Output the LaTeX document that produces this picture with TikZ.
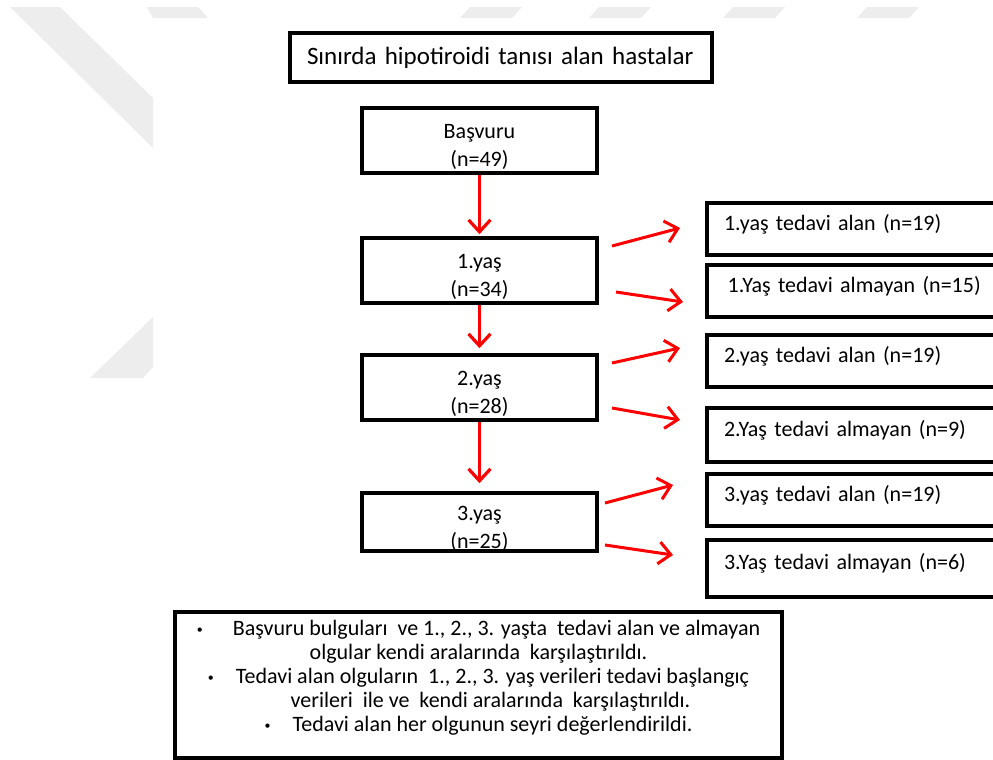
\documentclass[tikz,border=0pt]{standalone}
\usepackage{fontspec}
\setmainfont{Carlito}
\usetikzlibrary{arrows.meta}
\definecolor{wmgray}{HTML}{EDEDED}
\newcommand\notebullet{\raisebox{1.2pt}{\fontsize{6}{6}\selectfont•}}
\begin{document}
\begin{tikzpicture}[x=0.5pt,y=-0.5pt,
  titlebox/.style={draw,line width=1.8pt,minimum height=24.5pt,text width=194pt,
    inner xsep=8.5pt,inner ysep=0pt,align=left,font=\fontsize{12.5}{15}\selectfont},
  yearbox/.style={draw,line width=1.8pt,minimum width=117.5pt,minimum height=32.5pt,
    text width=117.5pt,inner sep=0pt,align=center,text height=4pt,text depth=6pt,
    font=\fontsize{11}{14}\selectfont},
  sidebox/.style={draw,line width=1.8pt,minimum width=149pt,minimum height=26pt,
    text width=132pt,inner xsep=8.5pt,inner ysep=0pt,align=left,
    text height=7pt,text depth=6pt,font=\fontsize{11}{13}\selectfont},
  notebox/.style={draw,line width=1.8pt,minimum width=303.5pt,minimum height=73pt,inner sep=0pt},
  notetext/.style={align=center,inner sep=0pt,font=\fontsize{11}{12}\selectfont},
  downarrow/.style={draw=red,line width=1.6pt,-{Straight Barb[length=6pt,width=11pt]}},
  sidearrow/.style={draw=red,line width=1.5pt,-{Straight Barb[length=6pt,width=11pt]}}]
\clip (0,0) rectangle (993,760);
% watermark
\fill[wmgray] (10,7) -- (60,7) -- (153,98) -- (153,148) -- cycle;
\fill[wmgray] (147,7) -- (198,7) -- (208,18) -- (153,18) -- cycle;
\fill[wmgray] (90,378) -- (153,317) -- (153,367) -- (143,378) -- cycle;
\fill[wmgray] (470,7) -- (522,7) -- (512,18) -- (460,18) -- cycle;
\fill[wmgray] (599,7) -- (651,7) -- (641,18) -- (589,18) -- cycle;
\fill[wmgray] (733,7) -- (785,7) -- (775,18) -- (723,18) -- cycle;
\fill[wmgray] (867,7) -- (919,7) -- (909,18) -- (857,18) -- cycle;
% title
\node[titlebox] (title) at (501,57.5) {Sınırda hipotiroidi tanısı alan hastalar};
% left column
\node[yearbox] (bas) at (479.5,140.5) {Başvuru\\(n=49)};
\node[yearbox] (y1) at (479.5,270.5) {1.yaş\\(n=34)};
\node[yearbox] (y2) at (479.5,387.5) {2.yaş\\(n=28)};
\node[yearbox,minimum height=29pt] (y3) at (479.5,522) {3.yaş\\(n=25)};
\draw[downarrow,shorten >=1pt] (bas.south) -- (y1.north);
\draw[downarrow,shorten >=2.5pt] (y1.south) -- (y2.north);
\draw[downarrow,shorten >=4pt] (y2.south) -- (y3.north);
% right column
\node[sidebox] (t1) at (856,229) {1.yaş tedavi alan (n=19)};
\node[sidebox] (t2) at (856,291) {\,1.Yaş tedavi almayan (n=15)};
\node[sidebox] (t3) at (856,361) {2.yaş tedavi alan (n=19)};
\node[sidebox,minimum height=27pt] (t4) at (856,435) {2.Yaş tedavi almayan (n=9)};
\node[sidebox] (t5) at (856,500) {3.yaş tedavi alan (n=19)};
\node[sidebox,minimum height=28.5pt] (t6) at (856,568.5) {3.Yaş tedavi almayan (n=6)};
\coordinate (s1) at (612,246); \coordinate (e1) at (680,228);
\coordinate (s2) at (616,292); \coordinate (e2) at (683,302);
\coordinate (s3) at (612,363); \coordinate (e3) at (680,348);
\coordinate (s4) at (612,408); \coordinate (e4) at (680,420);
\coordinate (s5) at (605,503); \coordinate (e5) at (673,485);
\coordinate (s6) at (605,545); \coordinate (e6) at (673,555);
\draw[sidearrow] (s1) -- (e1);
\draw[sidearrow] (s2) -- (e2);
\draw[sidearrow] (s3) -- (e3);
\draw[sidearrow] (s4) -- (e4);
\draw[sidearrow] (s5) -- (e5);
\draw[sidearrow] (s6) -- (e6);
% notes
\node[notebox] (notes) at (478.5,685) {};
\node[notetext,anchor=north] (notestext) at ([yshift=-4.8pt]notes.north)
  {\notebullet\hspace{15pt}Başvuru bulguları\ \ ve 1., 2., 3. yaşta\ \ tedavi alan ve almayan\\
   olgular kendi aralarında\ \ karşılaştırıldı.\\
   \notebullet\quad Tedavi alan olguların\ \ 1., 2., 3. yaş verileri tedavi başlangıç\\
   \hspace{12pt}verileri\ \ ile ve\ \ kendi aralarında\ \ karşılaştırıldı.\\
   \notebullet\quad Tedavi alan her olgunun seyri değerlendirildi.};
\end{tikzpicture}
\end{document}
